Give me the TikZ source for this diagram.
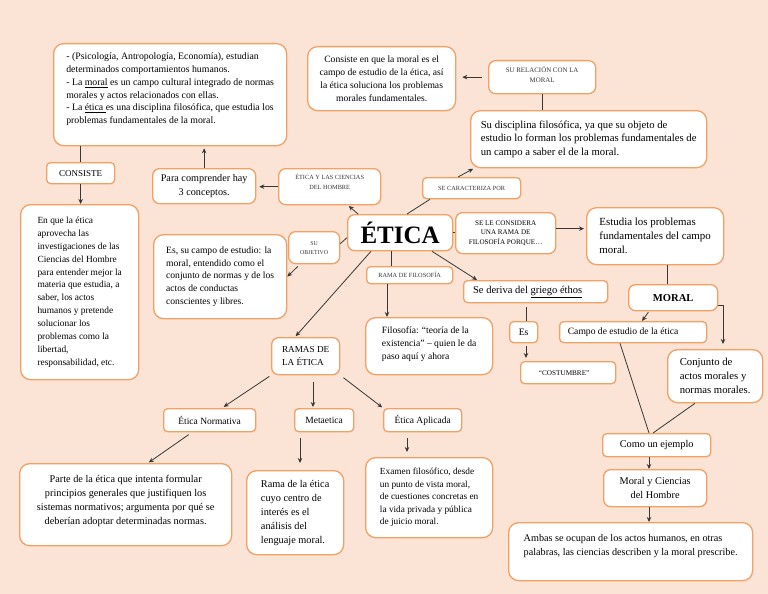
\documentclass[tikz,border=0pt]{standalone}
\usepackage{fontspec}
\setmainfont{Liberation Serif}
\usetikzlibrary{arrows.meta,calc}
\definecolor{bgc}{RGB}{251,228,214}
\definecolor{bord}{RGB}{242,160,100}
\definecolor{lin}{RGB}{55,55,55}
\definecolor{capc}{RGB}{55,55,55}
\tikzset{
  box/.style={draw=bord, line width=1.3pt, fill=white, rounded corners=10pt, anchor=north west, inner sep=1pt, align=center, text=black},
  mbox/.style={box, rounded corners=7pt},
  sbox/.style={box, rounded corners=4pt},
  conn/.style={draw=lin, line width=0.8pt},
  arr/.style={conn, -{Stealth[length=5pt,width=4.5pt]}},
}
\newcommand{\fsz}[2]{\fontsize{#1}{#2}\selectfont}
\begin{document}
\begin{tikzpicture}[x=1pt,y=-1pt]
\fill[bgc] (0,0) rectangle (768,594);
\useasboundingbox (0,0) rectangle (768,594);

% boxes
\node[box, minimum width=233pt, minimum height=102pt, align=left, font=\fsz{9.8}{12.8}] (tl) at (53,43)
 {- (Psicología, Antropología, Economía), estudian\\ determinados comportamientos humanos.\\ - La \underline{moral} es un campo cultural integrado de normas\\ morales y actos relacionados con ellas.\\ - La \underline{ética }es una disciplina filosófica, que estudia los\\ problemas fundamentales de la moral.\\ ~};
\node[sbox, minimum width=68pt, minimum height=21pt, font=\fsz{9}{11}] (cons) at (46,162) {CONSISTE};
\node[mbox, minimum width=103pt, minimum height=35pt, font=\fsz{10.2}{14}] (para) at (152,168) {Para comprender hay\\ 3 conceptos.};
\node[mbox, minimum width=102pt, minimum height=36pt, font=\fsz{6.3}{10}, text=capc] (etch) at (278,168) {ÉTICA Y LAS CIENCIAS\\ DEL HOMBRE\\[0pt]~};
\node[box, minimum width=148pt, minimum height=64pt, font=\fsz{9.6}{13}] (cons2) at (307,46) {Consiste en que la moral es el\\ campo de estudio de la ética, así\\ la ética soluciona los problemas\\ morales fundamentales.};
\node[mbox, minimum width=107pt, minimum height=33pt, font=\fsz{6.9}{9.5}, text=capc] (surel) at (488,60) {SU RELACIÓN CON LA\\ MORAL\\[-4pt]~};
\node[box, minimum width=236pt, minimum height=57pt, align=left, font=\fsz{10.7}{13.6}] (disc) at (470,110) {Su disciplina filosófica, ya que su objeto de\\ estudio lo forman los problemas fundamentales de\\ un campo a saber el de la moral.};
\node[sbox, minimum width=98pt, minimum height=21pt, font=\fsz{6.3}{8}, text=capc] (secar) at (422,177) {SE CARACTERIZA POR};
\node[mbox, minimum width=105pt, minimum height=36pt, font=\fsz{25}{28}\bfseries] (etica) at (347,214) {ÉTICA};
\node[mbox, minimum width=100pt, minimum height=41pt, font=\fsz{7.1}{9.5}] (sele) at (455,212) {SE LE CONSIDERA\\ UNA RAMA DE\\ FILOSOFÍA PORQUE…};
\node[box, minimum width=137pt, minimum height=57pt, align=left, font=\fsz{10.9}{14}] (estu) at (586,207) {Estudia los problemas\\ fundamentales del campo\hspace{8pt}\\ moral.};
\node[mbox, minimum width=51pt, minimum height=32pt, font=\fsz{5.9}{9}, text=capc] (suobj) at (288,231) {SU\\ OBJETIVO};
\node[box, minimum width=133pt, minimum height=84pt, align=left, font=\fsz{9.6}{12.8}] (escampo) at (153,234) {Es, su campo de estudio: la\\ moral, entendido como el\\ conjunto de normas y de los\\ actos de conductas\\ conscientes y libres.};
\node[box, minimum width=118pt, minimum height=175pt, align=left, font=\fsz{9.4}{12.9}] (enque) at (20,204) {En que la ética\\ aprovecha las\\ investigaciones de las\\ Ciencias del Hombre\\ para entender mejor la\\ materia que estudia, a\\ saber, los actos\\ humanos y pretende\\ solucionar los\\ problemas como la\\ libertad,\\ responsabilidad, etc.};
\node[sbox, minimum width=86pt, minimum height=17pt, font=\fsz{6.3}{8}, text=capc] (ramafil) at (366,266) {RAMA DE FILOSOFÍA};
\node[sbox, minimum width=144pt, minimum height=22pt, font=\fsz{10.5}{13}] (sed) at (463,280) {Se deriva del \underline{griego éthos}\hspace{16pt}};
\node[mbox, minimum width=89pt, minimum height=26pt, font=\fsz{10.6}{13}\bfseries] (moral) at (628,284) {MORAL};
\node[box, minimum width=127pt, minimum height=57pt, align=left, font=\fsz{9.6}{13}] (filo) at (365,317) {Filosofía: “teoría de la\\ existencia” – quien le da\\ paso aquí y ahora\\[-7pt] ~};
\node[sbox, minimum width=28pt, minimum height=21pt, font=\fsz{9.8}{12}] (es) at (509,321) {Es};
\node[sbox, minimum width=147pt, minimum height=21pt, font=\fsz{9.6}{12}] (campo) at (559,321) {Campo de estudio de la ética\hspace{20pt}};
\node[mbox, minimum width=68pt, minimum height=37pt, align=left, font=\fsz{9.2}{13}] (ramas) at (271,337) {RAMAS DE\\ LA ÉTICA};
\node[box, minimum width=95pt, minimum height=53pt, align=left, font=\fsz{10.7}{14}] (conj) at (667,349) {Conjunto de\\ actos morales y\\ normas morales.};
\node[sbox, minimum width=95pt, minimum height=22pt, font=\fsz{7.2}{9}] (cost) at (520,361) {“COSTUMBRE”\hspace{8pt}};
\node[sbox, minimum width=92pt, minimum height=23pt, font=\fsz{9.5}{12}] (norm) at (163,408) {Ética Normativa};
\node[sbox, minimum width=59pt, minimum height=23pt, font=\fsz{9.5}{12}] (meta) at (294,408) {Metaetica};
\node[sbox, minimum width=78pt, minimum height=23pt, font=\fsz{9.5}{12}] (aplic) at (383,408) {Ética Aplicada};
\node[box, minimum width=212pt, minimum height=82pt, font=\fsz{10.3}{14}] (parte) at (19,463) {Parte de la ética que intenta formular\\ principios generales que justifiquen los\\ sistemas normativos; argumenta por qué se\\ deberían adoptar determinadas normas.\\[-4pt]~};
\node[box, minimum width=97pt, minimum height=84pt, align=left, font=\fsz{10.3}{14}] (rama) at (246,470) {Rama de la ética\\ cuyo centro de\\ interés es el\\ análisis del\\ lenguaje moral.};
\node[box, minimum width=127pt, minimum height=80pt, align=left, font=\fsz{9.3}{12.5}] (exam) at (365,457) {Examen filosófico, desde\\ un punto de vista moral,\\ de cuestiones concretas en\\ la vida privada y pública\\ de juicio moral.};
\node[sbox, minimum width=108pt, minimum height=23pt, font=\fsz{10.3}{13}] (como) at (602,433) {Como un ejemplo};
\node[mbox, minimum width=103pt, minimum height=37pt, font=\fsz{10.3}{14}] (myc) at (603,469) {Moral y Ciencias\\ del Hombre};
\node[box, minimum width=244pt, minimum height=58pt, align=left, font=\fsz{10.2}{14}] (ambas) at (508,522) {Ambas se ocupan de los actos humanos, en otras\\ palabras, las ciencias describen y la moral prescribe.\\ ~};

% connectors
\draw[conn] (cons.north) -- (cons.north |- tl.south);
\draw[arr] (cons.south) -- (cons.south |- enque.north);
\draw[arr, shorten >=2pt] (para.north) -- (para.north |- tl.south);
\draw[arr, shorten >=3pt] (etch.west) -- (etch.west -| para.east);
\draw[arr, shorten >=1pt] ([xshift=11pt]etica.north west) -- ([xshift=70pt]etch.south west);
\draw[conn] ([xshift=60pt]etica.north west) -- ([xshift=8pt]secar.south west);
\draw[arr, shorten >=1pt] ([xshift=36pt]secar.north west) -- ([xshift=4pt]disc.south west);
\draw[conn] ([xshift=72pt]disc.north west) -- ([xshift=72pt]disc.north west |- surel.south);
\draw[arr, shorten <=6pt, shorten >=6pt] (surel.west) -- (surel.west -| cons2.east);
\draw[conn] (etica.east) -- (etica.east -| sele.west);
\draw[arr, shorten >=2pt] ([yshift=4.5pt]sele.east) -- ([yshift=4.5pt]sele.east -| estu.west);
\draw[conn] ([xshift=81pt]estu.south west) -- ([xshift=81pt]estu.south west |- moral.north);
\draw[arr, shorten <=1pt] ([xshift=21pt]moral.south west) -- ([xshift=83pt]campo.north west);
\draw[arr, shorten >=5pt] ([yshift=-8pt]moral.east) -| ([xshift=56pt]conj.north west);
\draw[conn] ([xshift=61pt]campo.south west) -- ([xshift=47pt]como.north west);
\draw[conn] ([xshift=28pt]conj.south west) -- ([xshift=51pt]como.north west);
\draw[arr] ([xshift=47pt]como.south west) -- ([xshift=47pt]como.south west |- myc.north);
\draw[arr] ([xshift=46pt]myc.south west) -- ([xshift=46pt]myc.south west |- ambas.north);
\draw[arr] ([xshift=85pt]etica.south west) -- ([xshift=14pt]sed.north west);
\draw[conn, shorten <=4pt] ([xshift=63pt]sed.south west) -- ([xshift=63pt]sed.south west |- es.north);
\draw[arr, shorten <=3pt, shorten >=3pt] ([xshift=17pt]es.south west) -- ([xshift=17pt]es.south west |- cost.north);
\draw[conn] ([xshift=44pt]etica.south west) -- ([xshift=44pt]etica.south west |- ramafil.north);
\draw[arr] ([xshift=21pt]ramafil.south west) -- ([xshift=21pt]ramafil.south west |- filo.north);
\draw[arr, shorten >=1pt] ([xshift=24pt]etica.south west) -- ([xshift=24pt]ramas.north west);
\draw[conn] ([yshift=-5pt]etica.west) -- ([yshift=4pt]suobj.east);
\draw[arr, shorten <=3pt] ([xshift=12pt]suobj.south west) -- (escampo.east);
\draw[arr, shorten <=2pt, shorten >=2pt] (ramas.south west) -- ([xshift=59pt]norm.north west);
\draw[arr, shorten <=7pt, shorten >=1pt] ([xshift=42pt]ramas.south west) -- ([xshift=42pt]ramas.south west |- meta.north);
\draw[arr, shorten <=4pt, shorten >=1pt] (ramas.south east) -- (aplic.north west);
\draw[arr, shorten <=4pt, shorten >=1pt] ([xshift=29pt]norm.south west) -- ([xshift=129pt]parte.north west);
\draw[arr, shorten <=6pt, shorten >=7pt] ([xshift=6pt]meta.south west) -- ([xshift=6pt]meta.south west |- rama.north);
\draw[arr, shorten <=6pt, shorten >=5pt] ([xshift=24pt]aplic.south west) -- ([xshift=24pt]aplic.south west |- exam.north);
\end{tikzpicture}
\end{document}
